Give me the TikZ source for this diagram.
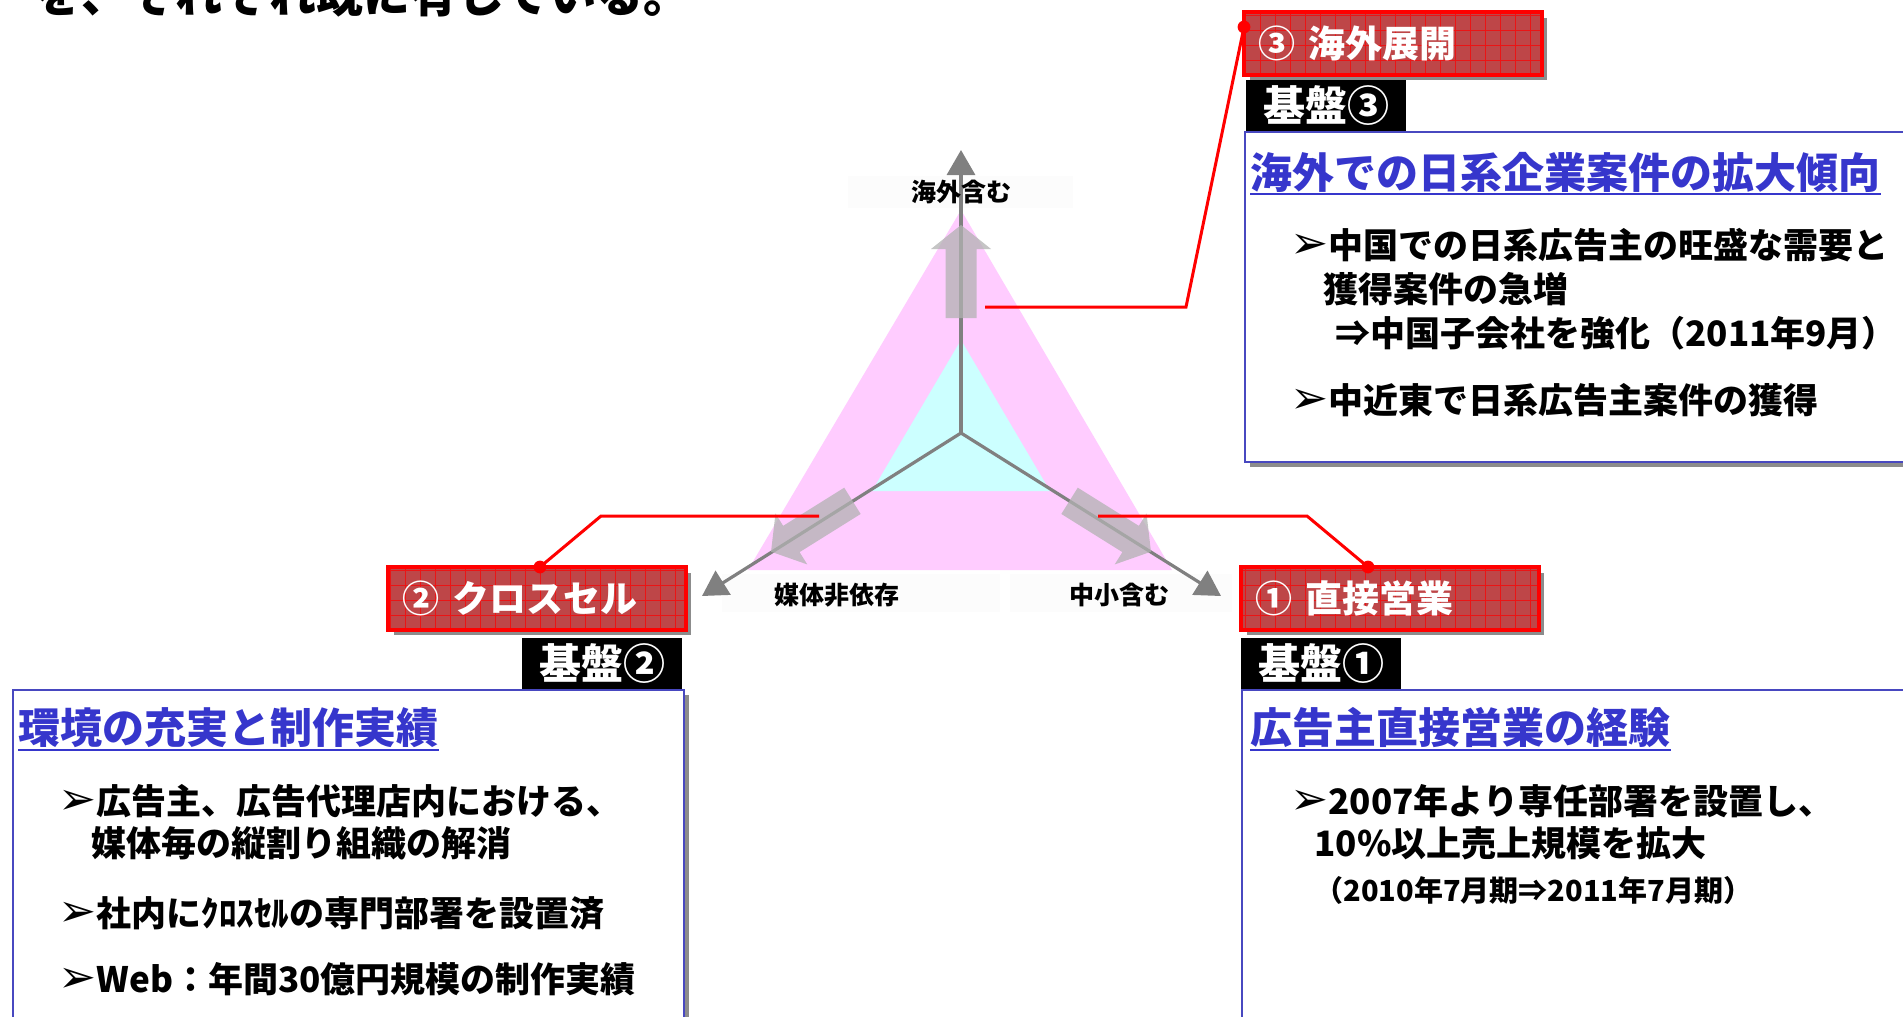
\documentclass[tikz,border=0pt]{standalone}
\usepackage{fontspec}
\setmainfont{Noto Sans CJK JP}
\newfontfamily\dvfont{DejaVu Sans}
\usetikzlibrary{arrows.meta,calc}
\definecolor{tagred}{HTML}{BE4648}
\definecolor{pinkfill}{HTML}{FFCCFF}
\definecolor{cyanfill}{HTML}{CCFFFF}
\definecolor{boxblue}{HTML}{4848C0}
\definecolor{titleblue}{HTML}{3636CC}
\definecolor{axisgray}{HTML}{808080}
\definecolor{shadowgray}{HTML}{8C8C8C}
\newcommand{\jpsize}[1]{\fontsize{#1}{#1}\selectfont}
\newcommand{\Bullt}{\scalebox{1.3}{\dvfont\bfseries ➢}}
\newcommand{\RTag}[4]{%
  \fill[shadowgray] (#2+6,#3+6) rectangle (#2+303,#3+68);
  \node[tagbase] (#1) at (#2,#3) {};
  \begin{scope}
    \clip (#2,#3) rectangle (#2+297,#3+62);
    \draw[tagline] (#2-30,#3-30) grid[step=7.5pt] (#2+330,#3+90);
  \end{scope}
  \draw[tagborder] (#1.north west) rectangle (#1.south east);
  \node[tagtext] (#1txt) at ($(#1.west)+(14,0)$) {#4};
}
\newcommand{\BlockArr}[3]{%
  \begin{scope}[shift={(961,433)}, rotate=#1]
    \fill[blockarrow] (#2,-15.5) -- (#3-24,-15.5) -- (#3-24,-30) -- (#3,0)
      -- (#3-24,30) -- (#3-24,15.5) -- (#2,15.5) -- cycle;
  \end{scope}
}
\begin{document}
\begin{tikzpicture}[x=0.5pt,y=-0.5pt,
  tagbase/.style={fill=tagred, minimum width=148.5pt, minimum height=31pt, inner sep=0, anchor=north west},
  tagborder/.style={draw=red, line width=1.8pt},
  tagline/.style={draw=red, line width=0.35pt, opacity=0.7},
  tagtext/.style={text=white, font=\bfseries\jpsize{18.5}, anchor=west, inner sep=0},
  kiban/.style={fill=black, text=white, font=\bfseries\jpsize{21}, minimum width=80pt, minimum height=25.5pt, anchor=north west, inner sep=0},
  infobox/.style={draw=boxblue, line width=1pt, fill=white, anchor=north west, inner sep=0},
  boxtitle/.style={text=titleblue, font=\bfseries\jpsize{21}, anchor=west, inner sep=0},
  bodytext/.style={font=\bfseries\jpsize{17.5}, anchor=west, inner sep=0},
  smalltext/.style={font=\bfseries\jpsize{14.5}, anchor=west, inner sep=0},
  axislabel/.style={font=\bfseries\jpsize{12.5}, inner sep=0},
  leader/.style={red, line width=1.5pt},
  axisline/.style={axisgray, line width=1.6pt, -{Triangle[length=12.5pt,width=14pt]}},
  blockarrow/.style={fill=gray!60, fill opacity=0.75},
  ulinestyle/.style={titleblue, line width=1pt}
]
\useasboundingbox (0,0) rectangle (1903,1017);
\clip (0,0) rectangle (1903,1017);
\fill[white] (0,0) rectangle (1903,1017);

% heading (cut off at top)
\node[anchor=base west, font=\bfseries\jpsize{23.5}, inner sep=0] (head) at (34,12) {を、それぞれ既に有している。};

% triangles
\fill[pinkfill] (961,210) -- (1172,570) -- (748,570) -- cycle;
\fill[cyanfill] (961,340) -- (1050,491) -- (872,491) -- cycle;

% faint label backdrops
\fill[black!1] (848,176) rectangle (1073,208);
\fill[black!1] (722,574) rectangle (1000,612);
\fill[black!1] (1010,574) rectangle (1232,612);

% axes
\coordinate (C) at (961,433);
\coordinate (Ttop) at (961,150);
\coordinate (Tleft) at (702,596);
\coordinate (Tright) at (1221,596);
\draw[axisline] (C) -- (Ttop);
\draw[axisline] (C) -- (Tleft);
\draw[axisline] (C) -- (Tright);

% block arrows
\BlockArr{90}{115}{208}
\BlockArr{212}{128}{224}
\BlockArr{-32}{128}{224}

% axis labels
\node[axislabel] (lt) at (961,192) {海外含む};
\node[axislabel] (ll) at (837,595) {媒体非依存};
\node[axislabel] (lr) at (1119,595) {中小含む};

% info boxes
\fill[shadowgray] (1250,137) rectangle (1916,467);
\node[infobox, minimum width=333pt, minimum height=165pt] (b3) at (1244,131) {};
\fill[shadowgray] (18,695) rectangle (689,1046);
\node[infobox, minimum width=335.5pt, minimum height=175.5pt] (b2) at (12,689) {};
\fill[shadowgray] (1247,695) rectangle (1916,1046);
\node[infobox, minimum width=334.5pt, minimum height=175.5pt] (b1) at (1241,689) {};

% kiban labels
\node[kiban] (k3) at (1246,80) {基盤③};
\node[kiban] (k2) at (522,638) {基盤②};
\node[kiban] (k1) at (1241,638) {基盤①};

% box 3 text
\node[boxtitle] (ti3) at (1250,172) {海外での日系企業案件の拡大傾向};
\draw[ulinestyle] ([yshift=-3pt]ti3.base west) -- ([yshift=-3pt]ti3.base east);
\node[bodytext] (p31) at (1290,245) {\Bullt 中国での日系広告主の旺盛な需要と};
\node[bodytext] (p32) at (1323,289) {獲得案件の急増};
\node[bodytext] (p33) at (1335,333) {⇒中国子会社を強化（2011年9月）};
\node[bodytext] (p34) at (1290,400) {\Bullt 中近東で日系広告主案件の獲得};

% box 2 text
\node[boxtitle] (ti2) at (18,728) {環境の充実と制作実績};
\draw[ulinestyle] ([yshift=-3pt]ti2.base west) -- ([yshift=-3pt]ti2.base east);
\node[bodytext] (p21) at (58,801) {\Bullt 広告主、広告代理店内における、};
\node[bodytext] (p22) at (91,843) {媒体毎の縦割り組織の解消};
\node[bodytext] (p23) at (58,913) {\Bullt 社内にｸﾛｽｾﾙの専門部署を設置済};
\node[bodytext] (p24) at (58,979) {\Bullt Web：年間30億円規模の制作実績};

% box 1 text
\node[boxtitle] (ti1) at (1250,728) {広告主直接営業の経験};
\draw[ulinestyle] ([yshift=-3pt]ti1.base west) -- ([yshift=-3pt]ti1.base east);
\node[bodytext] (p11) at (1290,801) {\Bullt 2007年より専任部署を設置し、};
\node[bodytext] (p12) at (1314,843) {10\%以上売上規模を拡大};
\node[smalltext] (p13) at (1314,890) {（2010年7月期⇒2011年7月期）};

% red tags
\RTag{t3}{1244}{12}{③\hspace{.35em}海外展開}
\RTag{t2}{388}{567}{②\hspace{.35em}クロスセル}
\RTag{t1}{1241}{567}{①\hspace{.35em}直接営業}

% leaders
\coordinate (a3) at (985,307);
\coordinate (a2) at (819,516);
\coordinate (a1) at (1098,516);
\coordinate (d3) at ([yshift=-7.5pt]t3.north west);
\coordinate (d2) at ([xshift=76pt]t2.north west);
\coordinate (d1) at ([xshift=63.5pt]t1.north west);
\draw[leader] (a3) -- (1186,307) -- (d3);
\draw[leader] (a2) -- (601,516) -- (d2);
\draw[leader] (a1) -- (1307,516) -- (d1);
\fill[red] (d3) circle (3.2pt);
\fill[red] (d2) circle (3.2pt);
\fill[red] (d1) circle (3.2pt);
\end{tikzpicture}
\end{document}
